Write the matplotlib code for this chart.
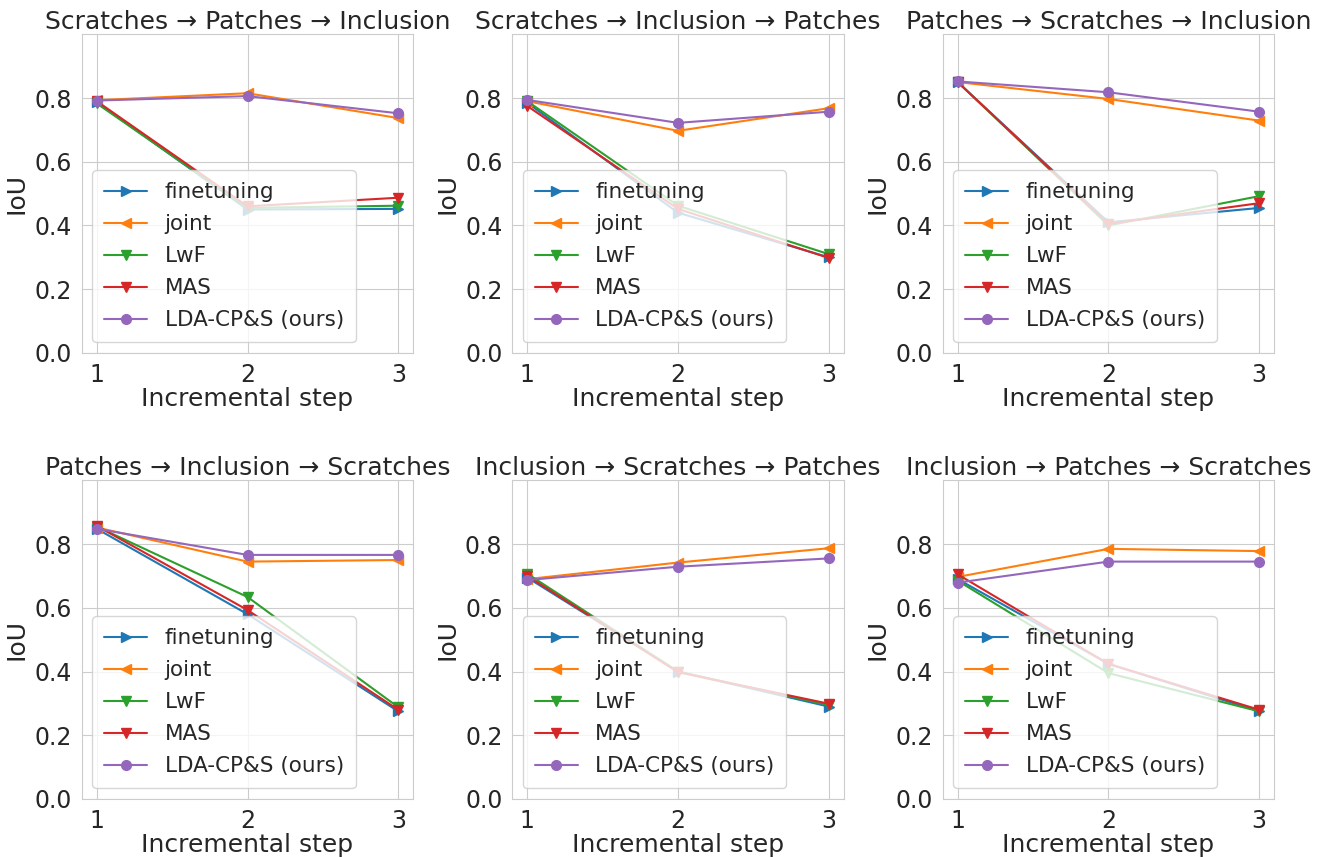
import numpy as np
import seaborn as sns
import matplotlib
matplotlib.use("Agg")
import matplotlib.pyplot as plt

sns.set_style("whitegrid")
plt.rcParams['font.family'] = ['DejaVu Sans']

STEPS = [1, 2, 3]
METHODS = ["finetuning", "joint", "LwF", "MAS", "LDA-CP&S (ours)"]
MARKERS = [">", "<", "v", "v", "o"]
COLORS = ["tab:blue", "tab:orange", "tab:green", "tab:red", "tab:purple"]

TITLES = [
    "Scratches \u2192 Patches \u2192 Inclusion",
    "Scratches \u2192 Inclusion \u2192 Patches",
    "Patches \u2192 Scratches \u2192 Inclusion",
    "Patches \u2192 Inclusion \u2192 Scratches",
    "Inclusion \u2192 Scratches \u2192 Patches",
    "Inclusion \u2192 Patches \u2192 Scratches",
]

# IoU per incremental step, one list per method (finetuning, joint, LwF, MAS, ours)
iou_sc_pa_in = [
    [0.787, 0.450, 0.452],
    [0.793, 0.815, 0.737],
    [0.783, 0.455, 0.462],
    [0.790, 0.460, 0.487],
    [0.792, 0.806, 0.752],
]
iou_sc_in_pa = [
    [0.785, 0.440, 0.300],
    [0.790, 0.697, 0.768],
    [0.790, 0.462, 0.310],
    [0.775, 0.452, 0.298],
    [0.794, 0.722, 0.757],
]
iou_pa_sc_in = [
    [0.850, 0.410, 0.455],
    [0.850, 0.797, 0.729],
    [0.850, 0.400, 0.492],
    [0.850, 0.405, 0.470],
    [0.852, 0.818, 0.757],
]
iou_pa_in_sc = [
    [0.848, 0.580, 0.275],
    [0.852, 0.745, 0.750],
    [0.855, 0.634, 0.288],
    [0.857, 0.593, 0.280],
    [0.848, 0.766, 0.766],
]
iou_in_sc_pa = [
    [0.695, 0.400, 0.290],
    [0.690, 0.742, 0.787],
    [0.707, 0.400, 0.295],
    [0.700, 0.398, 0.299],
    [0.687, 0.729, 0.755],
]
iou_in_pa_sc = [
    [0.690, 0.424, 0.275],
    [0.697, 0.785, 0.778],
    [0.685, 0.395, 0.275],
    [0.705, 0.424, 0.280],
    [0.679, 0.745, 0.745],
]

ALL_IOU = [iou_sc_pa_in, iou_sc_in_pa, iou_pa_sc_in,
           iou_pa_in_sc, iou_in_sc_pa, iou_in_pa_sc]

fig, axes = plt.subplots(2, 3, figsize=(13.26, 8.57), dpi=100)
plt.subplots_adjust(left=0.0616, right=0.961, top=0.96, bottom=0.0677,
                    wspace=0.298, hspace=0.40)

for ax, title, data in zip(axes.flat, TITLES, ALL_IOU):
    for vals, name, mk, col in zip(data, METHODS, MARKERS, COLORS):
        ax.plot(STEPS, vals, marker=mk, color=col, label=name,
                linewidth=1.5, markersize=7)
    ax.set_ylim(0, 1.0)
    ax.set_yticks(np.arange(0, 0.81, 0.2))
    ax.set_xticks(STEPS)
    ax.set_title(title, fontsize=18, pad=4)
    ax.set_xlabel("Incremental step", fontsize=18, labelpad=0)
    ax.set_ylabel("IoU", fontsize=18)
    ax.tick_params(labelsize=17)
    ax.legend(loc="lower left", fontsize=15.5, labelspacing=0.56,
              borderpad=0.55)

fig.savefig("out.png", dpi=100)
